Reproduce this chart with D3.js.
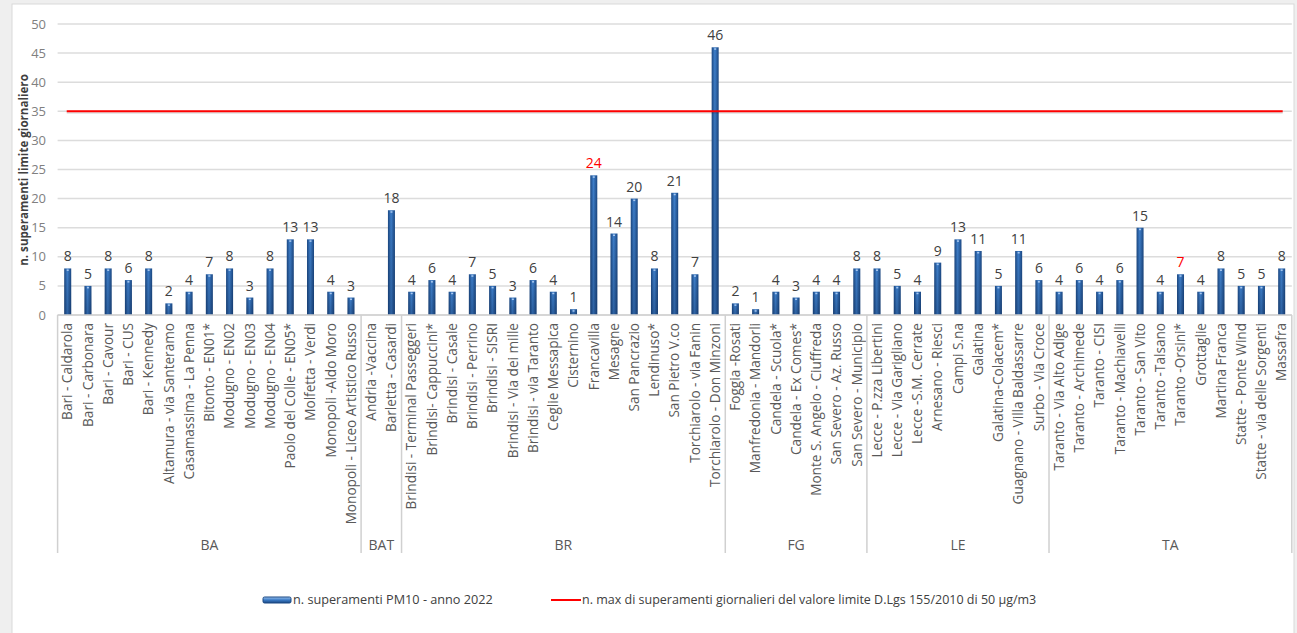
<!DOCTYPE html>
<html>
<head>
<meta charset="utf-8">
<script src="https://cdn.jsdelivr.net/npm/d3@7"></script>
<style>
  html, body { margin: 0; padding: 0; background: #efefef; }
  svg { display: block; }
  text { font-family: "Open Sans", "Liberation Sans", Arial, sans-serif; }
</style>
</head>
<body>
<svg id="chart" width="1297" height="633"></svg>
<script>
// Stations (x categories), their province, and PM10 exceedance counts for 2022
const stations = [
  "Bari - Caldarola", "Bari - Carbonara", "Bari -  Cavour", "Bari - CUS", "Bari -  Kennedy",
  "Altamura - via Santeramo", "Casamassima - La Penna", "Bitonto - EN01*", "Modugno - EN02",
  "Modugno - EN03", "Modugno - EN04", "Paolo del Colle - EN05*", "Molfetta - Verdi",
  "Monopoli -Aldo Moro", "Monopoli - Liceo Artistico Russo",
  "Andria -Vaccina", "Barletta - Casardi",
  "Brindisi - Terminal Passeggeri", "Brindisi- Cappuccini*", "Brindisi - Casale", "Brindisi - Perrino",
  "Brindisi - SISRI", "Brindisi - Via dei mille", "Brindisi - via Taranto", "Ceglie Messapica",
  "Cisternino", "Francavilla", "Mesagne", "San Pancrazio", "Lendinuso*", "San Pietro V.co",
  "Torchiarolo - via Fanin", "Torchiarolo - Don Minzoni",
  "Foggia -Rosati", "Manfredonia - Mandorli", "Candela - Scuola*", "Candela - Ex Comes*",
  "Monte S. Angelo - Ciuffreda", "San Severo - Az. Russo", "San Severo - Municipio",
  "Lecce - P.zza Libertini", "Lecce - Via Garigliano", "Lecce -S.M. Cerrate", "Arnesano - Riesci",
  "Campi S.na", "Galatina", "Galatina-Colacem*", "Guagnano - Villa Baldassarre", "Surbo - Via Croce",
  "Taranto - Via Alto Adige", "Taranto -  Archimede", "Taranto -  CISI", "Taranto -  Machiavelli",
  "Taranto - San Vito", "Taranto -Talsano", "Taranto -Orsini*", "Grottaglie", "Martina Franca",
  "Statte - Ponte Wind", "Statte - via delle Sorgenti", "Massafra"
];

const provinces = [
  "BA","BA","BA","BA","BA","BA","BA","BA","BA","BA","BA","BA","BA","BA","BA",
  "BAT","BAT",
  "BR","BR","BR","BR","BR","BR","BR","BR","BR","BR","BR","BR","BR","BR","BR","BR",
  "FG","FG","FG","FG","FG","FG","FG",
  "LE","LE","LE","LE","LE","LE","LE","LE","LE",
  "TA","TA","TA","TA","TA","TA","TA","TA","TA","TA","TA","TA"
];

const exceedances = [
  8, 5, 8, 6, 8, 2, 4, 7, 8, 3, 8, 13, 13, 4, 3,
  null, 18,
  4, 6, 4, 7, 5, 3, 6, 4, 1, 24, 14, 20, 8, 21, 7, 46,
  2, 1, 4, 3, 4, 4, 8,
  8, 5, 4, 9, 13, 11, 5, 11, 6,
  4, 6, 4, 6, 15, 4, 7, 4, 8, 5, 5, 8
];

// Stations whose value label is shown in red
const redLabels = ["Francavilla", "Taranto -Orsini*"];

const yTicks = [0, 5, 10, 15, 20, 25, 30, 35, 40, 45, 50];
const dailyLimit = 35;

const seriesName = "n. superamenti PM10 - anno 2022";
const limitName = "n. max di superamenti  giornalieri del valore limite D.Lgs 155/2010 di 50 \u00b5g/m3";
const yTitle = "n. superamenti limite giornaliero";

const svg = d3.select("#chart");
const W = 1297, H = 633;

// white chart panel
svg.append("rect").attr("x", 12).attr("y", 4).attr("width", 1282).attr("height", H)
  .attr("fill", "#ffffff").attr("stroke", "#d9d9d9").attr("stroke-width", 1);

const defs = svg.append("defs");
const grad = defs.append("linearGradient").attr("id", "barGrad")
  .attr("x1", "0%").attr("x2", "100%").attr("y1", "0%").attr("y2", "0%");
grad.append("stop").attr("offset", "0%").attr("stop-color", "#1b4883");
grad.append("stop").attr("offset", "45%").attr("stop-color", "#3e7fcb");
grad.append("stop").attr("offset", "100%").attr("stop-color", "#1b4883");

const shade = defs.append("linearGradient").attr("id", "barShade")
  .attr("x1", "0%").attr("x2", "0%").attr("y1", "0%").attr("y2", "100%");
shade.append("stop").attr("offset", "0%").attr("stop-color", "#000").attr("stop-opacity", 0);
shade.append("stop").attr("offset", "100%").attr("stop-color", "#001030").attr("stop-opacity", 0.25);

const gv = defs.append("linearGradient").attr("id", "barGradV")
  .attr("x1", "0%").attr("x2", "0%").attr("y1", "0%").attr("y2", "100%");
gv.append("stop").attr("offset", "0%").attr("stop-color", "#9cc3ee");
gv.append("stop").attr("offset", "50%").attr("stop-color", "#3b7bc6");
gv.append("stop").attr("offset", "100%").attr("stop-color", "#1b4883");

const x = d3.scaleBand().domain(stations).range([57.6, 1291.8]).paddingInner(0).paddingOuter(0);
const y = d3.scaleLinear().domain([0, 50]).range([315, 24]);
const bw = x.bandwidth();
const barW = 7;

// gridlines
svg.append("g").selectAll("line").data(yTicks).join("line")
  .attr("x1", 57.6).attr("x2", 1291.8)
  .attr("y1", d => y(d)).attr("y2", d => y(d))
  .attr("stroke", "#dcdcdc").attr("stroke-width", 1.5);

// y tick labels
svg.append("g").selectAll("text").data(yTicks).join("text")
  .attr("x", 46).attr("y", d => y(d)).attr("dy", "0.35em")
  .attr("text-anchor", "end").attr("font-size", 13).attr("fill", "#808080")
  .text(d => d);

// y axis title
svg.append("text")
  .attr("transform", "translate(28,170) rotate(-90)")
  .attr("text-anchor", "middle").attr("font-size", 11.6).attr("font-weight", "bold")
  .attr("fill", "#404040").text(yTitle);

// bars
const data = stations.map((s, i) => ({ s, p: provinces[i], v: exceedances[i] }));
const barData = data.filter(d => d.v != null);
const bars = svg.append("g");
bars.selectAll("rect.bar").data(barData).join("rect").attr("class", "bar")
  .attr("x", d => x(d.s) + bw / 2 - barW / 2).attr("width", barW)
  .attr("y", d => y(d.v)).attr("height", d => y(0) - y(d.v))
  .attr("fill", "url(#barGrad)");
bars.selectAll("rect.shade").data(barData).join("rect").attr("class", "shade")
  .attr("x", d => x(d.s) + bw / 2 - barW / 2).attr("width", barW)
  .attr("y", d => y(d.v)).attr("height", d => y(0) - y(d.v))
  .attr("fill", "url(#barShade)");
bars.selectAll("rect.hl").data(barData).join("rect").attr("class", "hl")
  .attr("x", d => x(d.s) + bw / 2 - 1).attr("width", 2)
  .attr("y", d => y(d.v) + 1).attr("height", 1.5)
  .attr("fill", "#a9c8ef");

// value labels
svg.append("g").selectAll("text").data(barData).join("text")
  .attr("x", d => x(d.s) + bw / 2).attr("y", d => y(d.v) - 7)
  .attr("text-anchor", "middle").attr("font-size", 14)
  .attr("fill", d => redLabels.includes(d.s) ? "#ff0000" : "#404040")
  .text(d => d.v);

// limit line
const lx1 = x(stations[0]) + bw / 2 - 1, lx2 = x(stations[stations.length - 1]) + bw / 2 + 1;
svg.append("line").attr("x1", lx1).attr("x2", lx2)
  .attr("y1", y(dailyLimit) + 1.5).attr("y2", y(dailyLimit) + 1.5)
  .attr("stroke", "#000").attr("stroke-opacity", 0.12).attr("stroke-width", 2);
svg.append("line").attr("x1", lx1).attr("x2", lx2)
  .attr("y1", y(dailyLimit)).attr("y2", y(dailyLimit))
  .attr("stroke", "#ff0000").attr("stroke-width", 2);

// category axis baseline
svg.append("line").attr("x1", 57.6).attr("x2", 1291.8).attr("y1", y(0)).attr("y2", y(0))
  .attr("stroke", "#d0d0d0").attr("stroke-width", 1.5);

// station labels
svg.append("g").selectAll("text").data(data).join("text")
  .attr("transform", d => `translate(${x(d.s) + bw / 2},323) rotate(-90)`)
  .attr("dy", "0.35em").attr("text-anchor", "end")
  .attr("font-size", 13.6).attr("fill", "#595959")
  .text(d => d.s);

// province groups: separators and labels
const groupNames = Array.from(new Set(provinces));
const groupsInfo = groupNames.map(g => {
  const members = stations.filter((s, i) => provinces[i] === g);
  return { g, x0: x(members[0]), x1: x(members[members.length - 1]) + bw };
});
const sepX = [groupsInfo[0].x0, ...groupsInfo.map(d => d.x1)];
svg.append("g").selectAll("line").data(sepX).join("line")
  .attr("x1", d => d).attr("x2", d => d).attr("y1", y(0)).attr("y2", 553)
  .attr("stroke", "#d0d0d0").attr("stroke-width", 1.5);
svg.append("g").selectAll("text").data(groupsInfo).join("text")
  .attr("x", d => (d.x0 + d.x1) / 2).attr("y", 545).attr("dy", "0.35em")
  .attr("text-anchor", "middle").attr("font-size", 14).attr("fill", "#595959")
  .text(d => d.g);

// legend
const lg = svg.append("g");
lg.append("rect").attr("x", 263).attr("y", 597).attr("width", 28).attr("height", 6).attr("rx", 1.5)
  .attr("fill", "url(#barGradV)").attr("stroke", "#1b4883").attr("stroke-width", 1);
lg.append("text").attr("x", 293).attr("y", 600).attr("dy", "0.35em")
  .attr("font-size", 12.7).attr("fill", "#404040").text(seriesName);
lg.append("line").attr("x1", 551).attr("x2", 581).attr("y1", 600).attr("y2", 600)
  .attr("stroke", "#ff0000").attr("stroke-width", 2);
lg.append("text").attr("x", 582).attr("y", 600).attr("dy", "0.35em")
  .attr("font-size", 12.5).attr("fill", "#404040").text(limitName);
</script>
</body>
</html>
